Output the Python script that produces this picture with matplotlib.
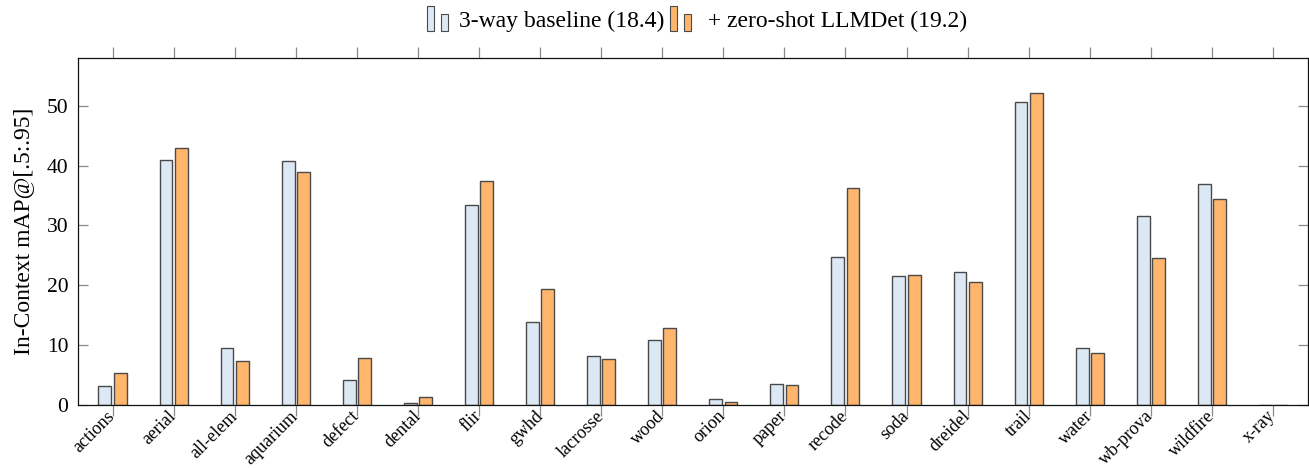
import matplotlib
matplotlib.use("Agg")
import matplotlib.pyplot as plt
from matplotlib.patches import Rectangle
from matplotlib.legend_handler import HandlerBase
import numpy as np

categories = ["actions", "aerial", "all-elem", "aquarium", "defect", "dental", "flir",
              "gwhd", "lacrosse", "wood", "orion", "paper", "recode", "soda", "dreidel",
              "trail", "water", "wb-prova", "wildfire", "x-ray"]
baseline = [3.15, 41.0, 9.5, 40.8, 4.1, 0.3, 33.4, 13.8, 8.2, 10.8, 0.9, 3.5, 24.7, 21.5,
            22.2, 50.6, 9.5, 31.6, 37.0, 0.0]
llmdet = [5.2, 43.0, 7.3, 38.9, 7.8, 1.2, 37.4, 19.3, 7.7, 12.9, 0.5, 3.2, 36.3, 21.7,
          20.5, 52.2, 8.6, 24.5, 34.4, 0.0]
series_labels = ["3-way baseline (18.4)", " + zero-shot LLMDet (19.2)"]

plt.rcParams['font.family'] = ['Liberation Serif', 'DejaVu Serif']
plt.rcParams['mathtext.fontset'] = 'stix'

W, H = 1309, 468
fig = plt.figure(figsize=(W / 100, H / 100), dpi=100)
ax = fig.add_axes([78 / W, 1 - 404.5 / H, (1307.5 - 78) / W, (404.5 - 58.3) / H])

blue = "#dde8f5"
orange = "#ffb66c"
edge = "#4a4a4a"

x = np.arange(len(categories))
bw = 0.21
ax.bar(x - 0.125, baseline, bw, color=blue, edgecolor=edge, linewidth=1.0, zorder=2)
ax.bar(x + 0.125, llmdet, bw, color=orange, edgecolor=edge, linewidth=1.0, zorder=2)

ax.set_xlim(-0.565, len(categories) - 1 + 0.565)
ax.set_ylim(0, 58)
ax.set_yticks([0, 10, 20, 30, 40, 50])
ax.set_xticks(x)
ax.set_xticklabels(categories, rotation=45, ha='right', va='center', rotation_mode='anchor')
for lab in ax.get_xticklabels():
    lab.set_fontsize(13)
ax.tick_params(axis='y', direction='in', left=True, right=True, length=7.5, width=0.9,
               color='#8a8a8a', labelsize=15.5, pad=7)
ax.tick_params(axis='x', direction='out', top=True, bottom=True, length=8, width=0.9,
               color='#8a8a8a', pad=-1.5)
for s in ax.spines.values():
    s.set_linewidth(0.9)
    s.set_color('#111111')
ax.set_ylabel("In-Context mAP@[.5:.95]", fontsize=17, labelpad=9)


class TwoBarHandler(HandlerBase):
    def __init__(self, fc):
        super().__init__()
        self.fc = fc

    def create_artists(self, legend, orig_handle, xdescent, ydescent, width, height,
                       fontsize, trans):
        w = width * 0.27
        r1 = Rectangle((-xdescent + width * 0.05, -ydescent - 3), w, height + 6,
                       facecolor=self.fc, edgecolor=edge, linewidth=0.8, transform=trans)
        r2 = Rectangle((-xdescent + width * 0.6, -ydescent - 3), w, height * 0.75 + 3,
                       facecolor=self.fc, edgecolor=edge, linewidth=0.8, transform=trans)
        return [r1, r2]


h1 = Rectangle((0, 0), 1, 1)
h2 = Rectangle((0, 0), 1, 1)
fig.legend([h1, h2], series_labels, loc='center', bbox_to_anchor=(0.532, 1 - 21 / H),
           ncol=2, frameon=False, fontsize=17, handlelength=1.1, handletextpad=0.3,
           columnspacing=0.2,
           handler_map={h1: TwoBarHandler(blue), h2: TwoBarHandler(orange)})

fig.savefig("out.png", dpi=100)
